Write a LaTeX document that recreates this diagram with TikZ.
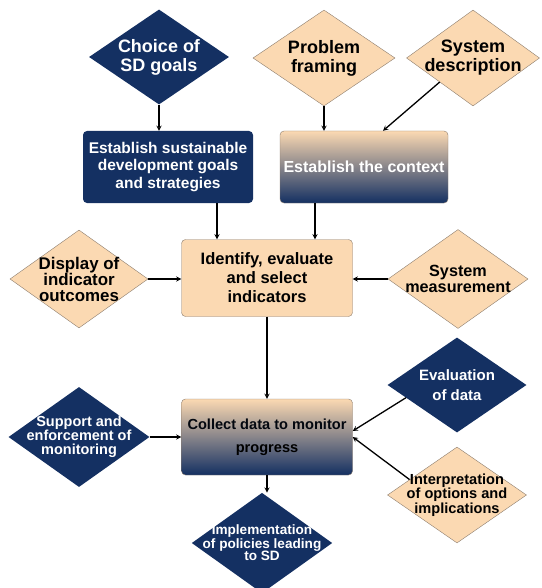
\documentclass[tikz,border=0pt]{standalone}
\usepackage{fontspec}
\setmainfont{Liberation Sans}
\usetikzlibrary{shapes.geometric,arrows,positioning}
\definecolor{sdnavy}{RGB}{20,48,98}
\definecolor{sdpeach}{RGB}{251,217,178}
\definecolor{sdedge}{RGB}{140,125,110}

\begin{document}
\begin{tikzpicture}[x=1pt,y=-1pt,
    navybox/.style={rectangle, fill=sdnavy, text=white, rounded corners=4pt, minimum width=170pt, minimum height=72pt, align=center, inner sep=2pt},
    peachbox/.style={rectangle, draw=sdedge, fill=sdpeach, text=black, rounded corners=4pt, minimum width=171pt, minimum height=77pt, align=center, inner sep=2pt},
    fadebox/.style={rectangle, draw=sdedge, top color=sdpeach, middle color=sdpeach!80!sdnavy, bottom color=sdnavy, rounded corners=4pt, minimum width=168pt, minimum height=72pt, align=center, inner sep=2pt},
    navydiam/.style={diamond, fill=sdnavy, text=white, aspect=1.4, inner sep=-6pt, align=center},
    peachdiam/.style={diamond, draw=sdedge, fill=sdpeach, text=black, aspect=1.4, inner sep=-6pt, align=center},
    arrow/.style={->,>=stealth,line width=1.3pt}
]
\useasboundingbox (0,0) rectangle (541,588);

% top row
\node[navydiam, minimum width=140pt, minimum height=95pt, font=\bfseries\fontsize{18}{19}\selectfont] (choice) at (159,57) {Choice of\\SD goals};
\node[peachdiam, minimum width=142pt, minimum height=96pt, font=\bfseries\fontsize{18}{19}\selectfont] (problem) at (324,58) {Problem\\framing};
\node[peachdiam, minimum width=133pt, minimum height=96pt, font=\bfseries\fontsize{18}{19}\selectfont] (sysdesc) at (473,58) {System\\description};

\node[navybox, font=\bfseries\fontsize{15.5}{17.5}\selectfont] (sdbox) at (168,167) {Establish sustainable\\development goals\\and strategies};
\node[fadebox, text=white, font=\bfseries\fontsize{16}{18}\selectfont] (context) at (364,167) {Establish the context};

% middle row
\node[peachbox, font=\bfseries\fontsize{16.5}{19}\selectfont] (identify) at (267,278) {Identify, evaluate\\and select\\indicators};
\node[peachdiam, minimum width=138pt, minimum height=98pt, font=\bfseries\fontsize{16.9}{16}\selectfont] (display) at (79,279) {Display of\\indicator\\outcomes};
\node[peachdiam, minimum width=140pt, minimum height=99pt, font=\bfseries\fontsize{16.2}{15.5}\selectfont] (sysmeas) at (458,279) {System\\measurement};

% bottom row
\node[fadebox, minimum width=171pt, minimum height=76pt, font=\bfseries\fontsize{14.6}{22.8}\selectfont] (collect) at (267,437) {\textcolor{black!85!sdnavy}{Collect data to monitor}\\progress};
\node[navydiam, minimum width=141pt, minimum height=100pt, font=\bfseries\fontsize{14.5}{13.8}\selectfont] (support) at (79,437) {Support and\\enforcement of\\monitoring};
\node[navydiam, minimum width=139pt, minimum height=95pt, font=\bfseries\fontsize{15}{20}\selectfont] (evaldata) at (457,385) {Evaluation\\of data};
\node[peachdiam, minimum width=139pt, minimum height=96pt, font=\bfseries\fontsize{14.6}{11.7}\selectfont] (interp) at (457,495) {Interpretation\\of options and\\implications};
\node[navydiam, minimum width=137pt, minimum height=96pt, font=\bfseries\fontsize{13.6}{12.5}\selectfont] (implement) at (262,543) {Implementation\\of policies leading\\to SD};

% connectors
\draw[arrow] (choice.south) -- (choice.south |- sdbox.north);
\draw[arrow] (problem.south) -- (problem.south |- context.north);
\draw[arrow] (sysdesc.south west) -- ([xshift=19pt]context.north);
\draw[arrow] ([xshift=49pt]sdbox.south) -- ([xshift=49pt]sdbox.south |- identify.north);
\draw[arrow] ([xshift=-49pt]context.south) -- ([xshift=-49pt]context.south |- identify.north);
\draw[arrow] (display.east) -- (display.east -| identify.west);
\draw[arrow] (sysmeas.west) -- (sysmeas.west -| identify.east);
\draw[arrow] (identify) -- (collect);
\draw[arrow] (support.east) -- (support.east -| collect.west);
\draw[arrow] (evaldata.194) -- ([yshift=6pt]collect.east);
\draw[arrow] (interp.162) -- (collect.east);
\draw[arrow] (collect.south) -- (collect.south |- implement.north);

\end{tikzpicture}
\end{document}
